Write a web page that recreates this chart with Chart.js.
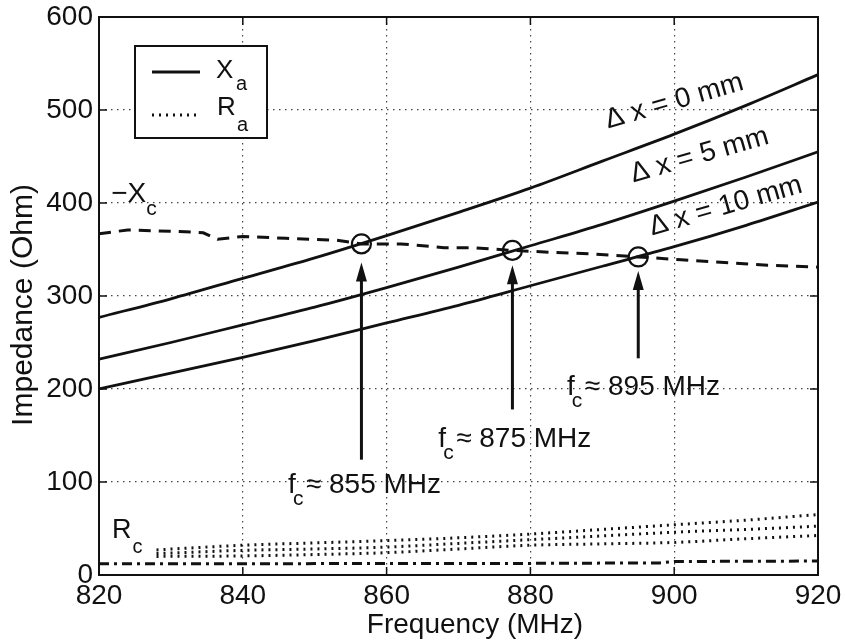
<!DOCTYPE html>
<html><head><meta charset="utf-8">
<script src="https://cdn.jsdelivr.net/npm/chart.js@4.4.0/dist/chart.umd.min.js"></script>
<style>html,body{margin:0;padding:0;background:#fff;}canvas{display:block;}</style>
</head><body>
<canvas id="c" width="846" height="642"></canvas>
<script>
// ---- data ----
const xTicks = [820, 840, 860, 880, 900, 920];
const yTicks = [0, 100, 200, 300, 400, 500, 600];

const freq = [820, 830, 840, 850, 860, 870, 880, 890, 900, 910, 920];
const xa0  = [277, 297, 319, 341, 365, 390, 416, 445, 474, 505, 538];
const xa5  = [232, 250, 269, 288, 309, 331, 354, 377, 402, 428, 455];
const xa10 = [200, 217, 234, 252, 271, 290, 311, 332, 353, 376, 401];

const xcFreq = [820, 824, 832, 834.5, 836.5, 840, 846, 853, 856.5, 862, 868, 872, 877.5, 883, 889, 895, 901, 907, 913, 920];
const xcVals = [367, 371, 369, 368, 361, 364, 362, 360, 356, 356, 352, 352, 349, 347, 345, 342, 339, 336, 333, 331];

const raFreq = [828, 840, 850, 860, 870, 880, 890, 900, 910, 920];
const ra0  = [27, 32, 34.5, 37, 40, 44, 49, 54, 59, 65];
const ra5  = [23, 26.5, 28, 30, 34, 38, 42, 46, 49, 52.5];
const ra10 = [20, 20.5, 22, 24, 28, 32, 33.5, 35, 39, 42.5];

const rcFreq = [820, 840, 860, 880, 898, 900, 920];
const rcVals = [12, 12, 12.5, 12.5, 13, 14.5, 15];

const crossFreq = [856.5, 877.5, 895];
const crossVals = [356, 349, 342];

const arrowFreq   = [856.5, 877.5, 895];
const arrowTop    = [336, 333, 327];
const arrowBottom = [124, 178, 233];

const fcLabels = ['855', '875', '895'];
const fcLabelFreq = [846.3, 867.2, 885.1];
const fcLabelVal  = [88, 138, 194];

const dxLabels = ['0', '5', '10'];
const dxLabelFreq = [890.8, 894.3, 896.9];
const dxLabelVal  = [480, 422, 365];

const FONT = '"Liberation Sans", Arial, Helvetica, sans-serif';
const pts = (xs, ys) => xs.map((x, i) => ({x: x, y: ys[i]}));

function font(sz){ return sz + 'px ' + FONT; }

const decor = {
  id: 'decor',
  afterDatasetsDraw(chart) {
    const {ctx, chartArea: a, scales: {x, y}} = chart;
    const L = (x1, y1, x2, y2) => { ctx.beginPath(); ctx.moveTo(x1, y1); ctx.lineTo(x2, y2); ctx.stroke(); };
    ctx.save();
    ctx.fillStyle = '#111'; ctx.strokeStyle = '#111';
    // frame
    ctx.lineWidth = 2; ctx.setLineDash([]);
    ctx.strokeRect(a.left, a.top, a.right - a.left, a.bottom - a.top);
    // inner ticks
    ctx.lineWidth = 1.5;
    xTicks.forEach(v => { const p = x.getPixelForValue(v); L(p, a.bottom, p, a.bottom - 8); L(p, a.top, p, a.top + 8); });
    yTicks.forEach(v => { const p = y.getPixelForValue(v); L(a.left, p, a.left + 8, p); L(a.right, p, a.right - 8, p); });
    // arrows
    ctx.lineWidth = 3;
    arrowFreq.forEach((f, i) => {
      const px = x.getPixelForValue(f);
      const pt = y.getPixelForValue(arrowTop[i]);
      const pb = y.getPixelForValue(arrowBottom[i]);
      L(px, pb, px, pt + 14);
      ctx.beginPath(); ctx.moveTo(px, pt); ctx.lineTo(px - 5.5, pt + 19); ctx.lineTo(px + 5.5, pt + 19); ctx.closePath(); ctx.fill();
    });
    // f_c labels
    ctx.textBaseline = 'alphabetic'; ctx.textAlign = 'left';
    fcLabels.forEach((t, i) => {
      const px = x.getPixelForValue(fcLabelFreq[i]);
      const py = y.getPixelForValue(fcLabelVal[i]);
      ctx.font = font(28); ctx.fillText('f', px, py);
      const wf = ctx.measureText('f').width;
      ctx.font = font(21); ctx.fillText('c', px + wf - 3, py + 12);
      ctx.font = font(28); ctx.fillText('\u2248 ' + t + ' MHz', px + wf + 10, py);
    });
    // delta x labels
    dxLabels.forEach((t, i) => {
      const px = x.getPixelForValue(dxLabelFreq[i]);
      const py = y.getPixelForValue(dxLabelVal[i]);
      ctx.save(); ctx.translate(px, py); ctx.rotate(-16 * Math.PI / 180);
      ctx.font = font(28); ctx.fillText('\u0394 x = ' + t + ' mm', 0, 0);
      ctx.restore();
    });
    // -Xc and Rc labels
    {
      const px = x.getPixelForValue(821.7), py = y.getPixelForValue(401);
      ctx.font = font(28); ctx.fillText('\u2212X', px, py);
      const w = ctx.measureText('\u2212X').width;
      ctx.font = font(21); ctx.fillText('c', px + w, py + 13);
    }
    {
      const px = x.getPixelForValue(821.8), py = y.getPixelForValue(40);
      ctx.font = font(27); ctx.fillText('R', px, py);
      const w = ctx.measureText('R').width;
      ctx.font = font(20); ctx.fillText('c', px + w + 1, py + 15);
    }
    // legend box
    const lx = a.left + 36, ly = a.top + 29;
    ctx.lineWidth = 2; ctx.setLineDash([]);
    ctx.fillStyle = '#fff'; ctx.fillRect(lx, ly, 132, 92);
    ctx.strokeRect(lx, ly, 132, 92);
    ctx.fillStyle = '#111';
    ctx.lineWidth = 2.8; L(lx + 17, ly + 26, lx + 65, ly + 26);
    ctx.setLineDash([2, 5]); ctx.lineWidth = 3; L(lx + 17, ly + 69, lx + 64, ly + 69); ctx.setLineDash([]);
    ctx.font = font(26); ctx.fillText('X', lx + 81, ly + 32);
    ctx.fillText('R', lx + 82, ly + 69);
    ctx.font = font(20); ctx.fillText('a', lx + 101, ly + 44); ctx.fillText('a', lx + 102, ly + 85);
    // axis titles
    ctx.font = font(28); ctx.textAlign = 'center';
    ctx.fillText('Frequency (MHz)', 475, 633);
    ctx.save(); ctx.translate(32, 305); ctx.rotate(-Math.PI / 2);
    ctx.font = font(30);
    ctx.fillText('Impedance (Ohm)', 0, 0);
    ctx.restore();
    ctx.restore();
  }
};

const lineDs = (label, data, extra) => Object.assign({
  label: label, data: data, borderColor: '#111', borderWidth: 2.8, pointRadius: 0,
  fill: false, cubicInterpolationMode: 'monotone', showLine: true
}, extra || {});

new Chart(document.getElementById('c'), {
  type: 'scatter',
  data: {
    datasets: [
      { label: 'crossings', data: pts(crossFreq, crossVals), showLine: false, pointRadius: 9.5, pointStyle: 'circle',
        pointBackgroundColor: 'rgba(0,0,0,0)', pointBorderColor: '#111', pointBorderWidth: 2.2 },
      lineDs('\u0394x = 0 mm', pts(freq, xa0)),
      lineDs('\u0394x = 5 mm', pts(freq, xa5)),
      lineDs('\u0394x = 10 mm', pts(freq, xa10)),
      lineDs('-Xc', pts(xcFreq, xcVals), { borderDash: [12, 8], borderWidth: 3, cubicInterpolationMode: 'default', tension: 0 }),
      lineDs('Ra 0', pts(raFreq, ra0), { borderDash: [2, 5], borderWidth: 3, borderCapStyle: 'butt' }),
      lineDs('Ra 5', pts(raFreq, ra5), { borderDash: [2, 5], borderWidth: 3, borderCapStyle: 'butt' }),
      lineDs('Ra 10', pts(raFreq, ra10), { borderDash: [2, 5], borderWidth: 3, borderCapStyle: 'butt' }),
      lineDs('Rc', pts(rcFreq, rcVals), { borderDash: [10, 5, 3, 5], borderWidth: 3, cubicInterpolationMode: 'default', tension: 0 })
    ]
  },
  options: {
    responsive: false, animation: false, devicePixelRatio: 1,
    layout: { padding: { top: 17, right: 28, left: 0, bottom: 0 } },
    plugins: { legend: { display: false }, tooltip: { enabled: false } },
    scales: {
      x: {
        type: 'linear', min: 820, max: 920,
        afterBuildTicks: s => { s.ticks = xTicks.map(v => ({ value: v })); },
        afterFit: s => { s.height = 67; s.paddingLeft = 0; s.paddingRight = 0; },
        ticks: { color: '#111', font: { family: FONT, size: 28 }, padding: 4, maxRotation: 0, autoSkip: false },
        grid: { color: '#444', lineWidth: 1.2, drawTicks: false },
        border: { display: false, dash: [1.5, 4.5] }
      },
      y: {
        type: 'linear', min: 0, max: 600,
        afterBuildTicks: s => { s.ticks = yTicks.map(v => ({ value: v })); },
        afterFit: s => { s.width = 99; s.paddingTop = 0; s.paddingBottom = 0; },
        ticks: { color: '#111', font: { family: FONT, size: 28 }, padding: 6, autoSkip: false },
        grid: { color: '#444', lineWidth: 1.2, drawTicks: false },
        border: { display: false, dash: [1.5, 4.5] }
      }
    }
  },
  plugins: [decor]
});
</script>
</body></html>
